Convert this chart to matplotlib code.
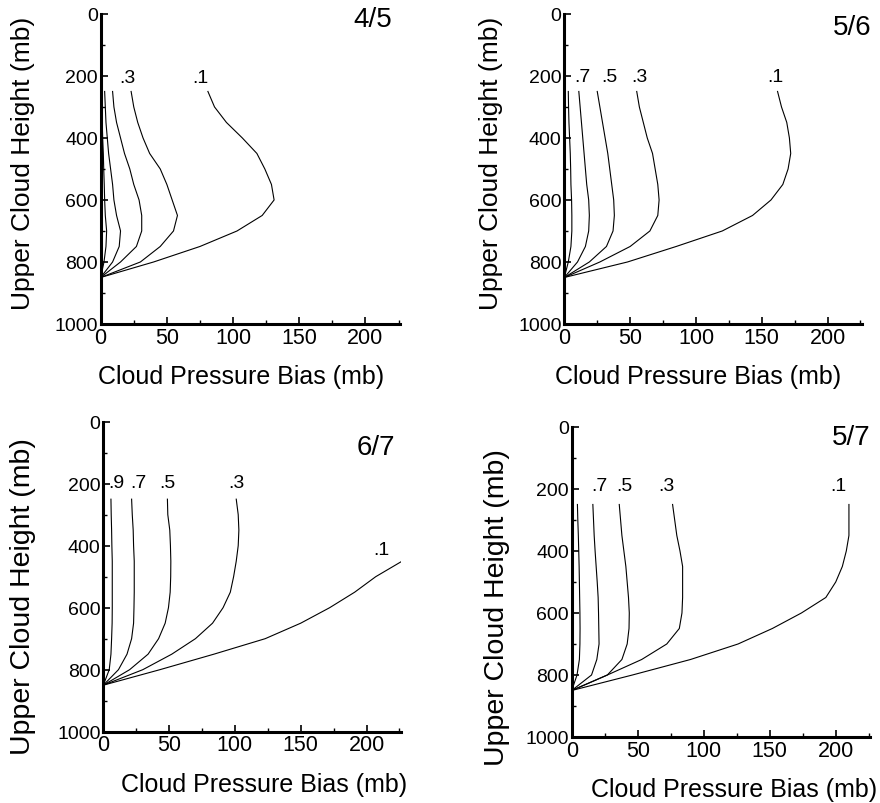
import matplotlib.pyplot as plt
from matplotlib.ticker import MultipleLocator

plt.rcParams['font.family'] = ['Liberation Sans', 'DejaVu Sans']

# upper cloud heights (mb) at which the bias was computed
levels = [250, 300, 350, 400, 450, 500, 550, 600, 650, 700, 750, 800, 850]
ratios = ['.9', '.7', '.5', '.3', '.1']

# cloud pressure bias (mb), one row per cloud amount ratio (.9 ... .1)
bias_45 = [
    [1, 1, 1.2, 1.5, 2, 2.3, 2.7, 3, 3.5, 4.5, 4, 2.5, 0],
    [3, 3.5, 4, 5, 6, 7.5, 9, 10, 12, 15, 14, 9, 0],
    [9, 10, 12, 15, 18, 22, 25, 29, 31, 31, 27, 15, 0],
    [23, 25, 28, 32, 37, 45, 50, 54, 58, 55, 45, 30, 0],
    [81, 86, 95, 107, 118, 124, 129, 131, 122, 103, 75, 40, 0],
]
bias_56 = [
    [3, 3.2, 3.5, 4, 4.5, 4.8, 5, 5.5, 5.7, 5.7, 5, 3, 0],
    [11, 12, 13, 14, 15, 16, 17, 18.5, 19, 18.5, 16, 10, 0],
    [25, 27, 29, 31, 33, 34.5, 36, 37.5, 38, 37, 32, 19, 0],
    [55, 57, 60, 63, 67, 69, 71, 72, 71, 65, 50, 27, 0],
    [162, 165, 169, 171, 172, 170, 166, 157, 143, 120, 85, 48, 0],
]
bias_67 = [
    [5.8, 6, 6.3, 6.5, 6.8, 6.8, 6.8, 6.8, 6.7, 6.3, 5.8, 4.5, 0],
    [21.5, 22, 22.7, 23, 23.5, 23.5, 23.5, 23.3, 23, 21.5, 18, 11.5, 0],
    [48.7, 49, 50.5, 51, 51.3, 51.2, 50.8, 49.5, 47, 42, 34, 20, 0],
    [101, 102.5, 103, 102.5, 101, 99, 96.5, 91, 83, 70, 52, 30, 0],
]
# the .1 curve for 6/7 leaves the plotted range above 450 mb
levels_67_low = [450, 500, 550, 600, 650, 700, 750, 800, 850]
bias_67_low = [227, 207, 191, 172, 150, 123, 84, 43, 0]
bias_57 = [
    [4.3, 4.6, 5, 5.3, 5.6, 5.8, 6, 6.2, 6.3, 6.2, 5.8, 4, 0],
    [16, 16.5, 17, 17.7, 18.5, 19.3, 20, 20.3, 20.5, 20.7, 19, 15, 0],
    [36, 37, 38, 39.5, 41, 42, 43, 43.6, 43.4, 42, 38, 27, 0],
    [76.4, 78, 79.6, 82, 84, 84, 84, 83.5, 81.5, 72, 53, 27, 0],
    [210, 210, 210, 208, 205, 200, 192.5, 174, 152, 126, 90, 46, 0],
]

channels = ['4/5', '5/6', '6/7', '5/7']

fig = plt.figure(figsize=(8.8, 8.04), dpi=100)
rects = [(0.1144, 0.5958, 0.340, 0.3856), (0.6413, 0.5958, 0.338, 0.3856),
         (0.1174, 0.0887, 0.338, 0.3856), (0.6497, 0.0821, 0.339, 0.3856)]
axs = [fig.add_axes(r) for r in rects]

# (xlabel x, ylabel x, ylabel y, ylabel size) for each panel
label_place = [(0.47, -0.22, 0.52, 19), (0.45, -0.206, 0.52, 19),
               (0.54, -0.225, 0.44, 20.5), (0.545, -0.208, 0.42, 20.5)]

def style(ax, place):
    ax.set_xlim(0, 226)
    ax.set_ylim(1000, 0)
    for s in ['top', 'right']:
        ax.spines[s].set_visible(False)
    for s in ['left', 'bottom']:
        ax.spines[s].set_linewidth(2.2)
    ax.xaxis.set_major_locator(MultipleLocator(50))
    ax.xaxis.set_minor_locator(MultipleLocator(25))
    ax.yaxis.set_major_locator(MultipleLocator(200))
    ax.yaxis.set_minor_locator(MultipleLocator(100))
    ax.tick_params(which='major', direction='in', length=5, width=1.2, pad=2)
    ax.tick_params(which='minor', direction='in', length=3, width=1)
    ax.tick_params(axis='x', labelsize=15.5)
    ax.tick_params(axis='y', labelsize=14)
    xl, yx, yy, ys = place
    ax.set_xlabel('Cloud Pressure Bias (mb)', fontsize=18)
    ax.set_ylabel('Upper Cloud Height (mb)', fontsize=ys)
    ax.xaxis.set_label_coords(xl, -0.13)
    ax.yaxis.set_label_coords(yx, yy)

for ax, rows, place in zip(axs, [bias_45, bias_56, bias_67, bias_57], label_place):
    for row in rows:
        ax.plot(row, levels, color='black', lw=0.8)
    style(ax, place)
axs[2].plot(bias_67_low, levels_67_low, color='black', lw=0.8)

# curve labels: (ratio, x in mb, height in mb)
curve_labels = [
    [('.3', 20, 205), ('.1', 75, 205)],
    [('.7', 14, 202), ('.5', 34, 202), ('.3', 57, 202), ('.1', 160, 202)],
    [('.9', 10, 195), ('.7', 27, 195), ('.5', 49, 195), ('.3', 101, 195), ('.1', 211, 411)],
    [('.7', 21, 190), ('.5', 40, 190), ('.3', 72, 190), ('.1', 202, 190)],
]
for ax, labs in zip(axs, curve_labels):
    for txt, x, y in labs:
        ax.text(x, y, txt, fontsize=14, ha='center', va='center')

title_pos = [(0.973, 1.026), (1.034, 1.0), (0.981, 0.96), (1.0, 1.01)]
for ax, name, (tx, ty) in zip(axs, channels, title_pos):
    ax.text(tx, ty, name, transform=ax.transAxes, fontsize=20,
            ha='right', va='top')

fig.savefig('out.png', dpi=100)
